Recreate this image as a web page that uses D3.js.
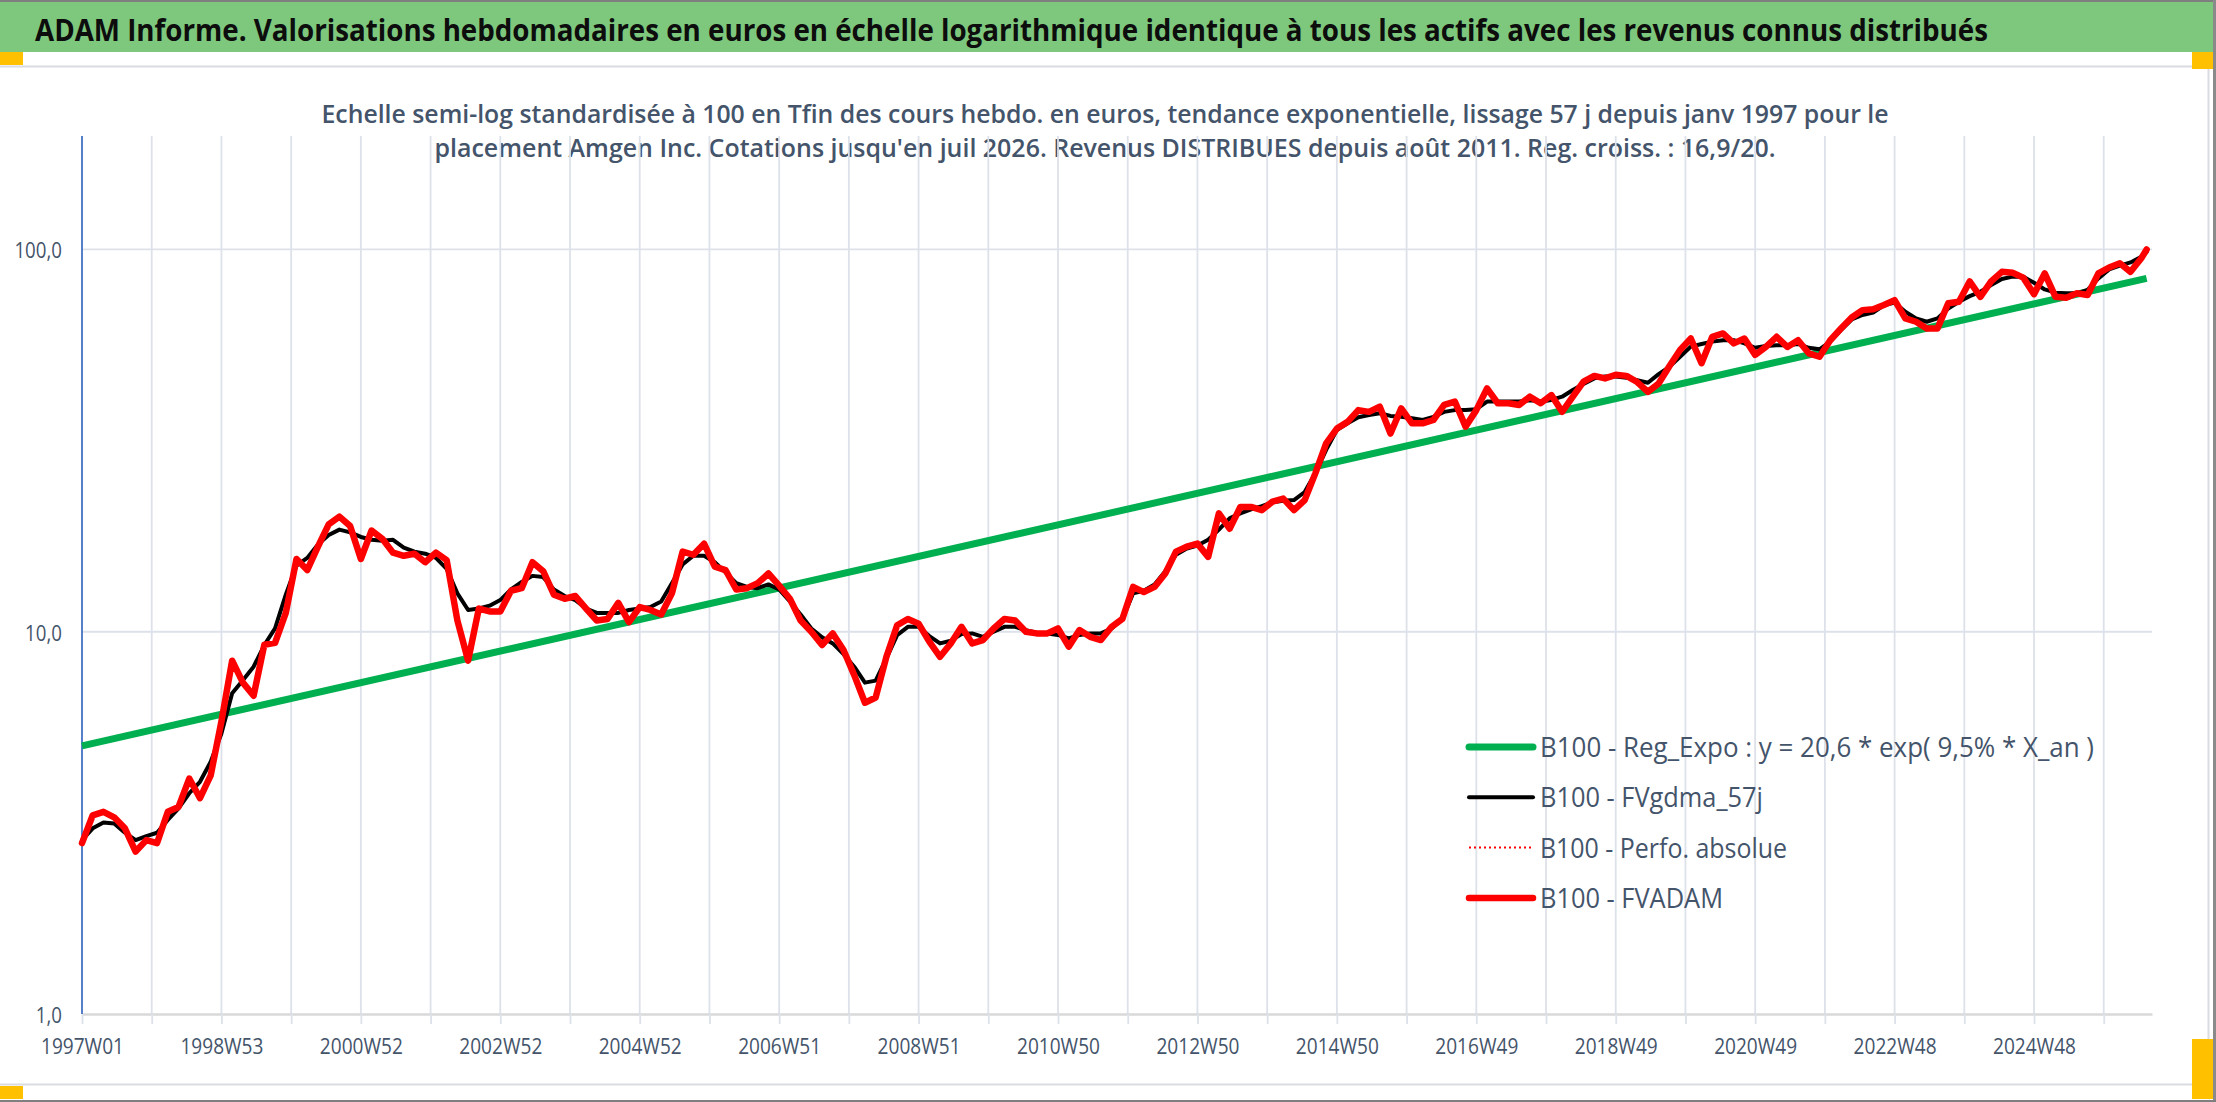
<!DOCTYPE html>
<html lang="fr">
<head>
	<meta charset="UTF-8">
	<title>ADAM Informe - Amgen Inc.</title>
	<style>
		body{margin:0;background:#fff;}
		svg{display:block;font-family:"Open Sans",sans-serif;}
	</style>
</head>
<body>
<script src="https://cdn.jsdelivr.net/npm/d3@7/dist/d3.min.js"></script>
<script>
	// semaines depuis 1997W01, une valeur lue toutes les 8 semaines
	var step=8;
	var lastWeek=1540;
	var gridEvery=52;
	var labelEvery=104;

	var xLabels=['1997W01','1998W53','2000W52','2002W52','2004W52','2006W51','2008W51','2010W50',
		'2012W50','2014W50','2016W49','2018W49','2020W49','2022W48','2024W48'];
	var yTicks=[1,10,100];

	// B100 - Reg_Expo : debut et fin de la droite
	var regWeeks=[0,1540];
	var regExpo=[5.03,84.0];

	// B100 - FVADAM
	var fvadam=[
		2.80,3.31,3.38,3.27,3.06,2.66,2.85,2.80,3.38,3.48,
		4.13,3.67,4.21,5.83,8.4,7.36,6.80,9.25,9.35,11.2,
		15.5,14.5,16.7,19.1,20.0,18.9,15.5,18.4,17.5,16.1,
		15.8,16.0,15.2,16.1,15.4,10.7,8.4,11.5,11.3,11.3,
		12.8,13.0,15.2,14.4,12.5,12.2,12.4,11.5,10.7,
		10.8,11.9,10.6,11.6,11.4,11.1,12.6,16.2,15.9,17.0,
		14.8,14.5,12.9,13.0,13.4,14.2,13.2,12.2,10.7,10.0,
		9.23,9.90,8.96,7.70,6.52,6.73,8.60,10.4,10.8,10.5,
		9.42,8.60,9.32,10.3,9.32,9.51,10.2,10.8,10.7,10.0,
		9.90,9.90,10.2,9.14,10.1,9.70,9.51,10.3,10.8,
		13.1,12.7,13.1,14.2,16.2,16.7,17.0,15.7,20.4,18.6,
		21.2,21.2,20.8,21.9,22.3,20.8,22.1,26.0,31.1,34.0,
		35.4,38.0,37.6,38.8,33.0,38.4,35.1,35.1,35.8,39.2,
		40.0,34.4,38.0,43.3,39.6,39.6,39.2,41.2,39.6,41.6,
		37.6,41.2,45.1,46.7,46.0,47.0,46.7,45.0,
		42.4,44.6,49.5,54.6,58.5,50.4,59.1,60.3,56.8,58.5,
		53.0,55.6,59.1,55.6,57.9,53.5,52.4,57.9,62.1,66.4,
		69.4,69.8,71.6,73.7,66.0,64.7,62.1,62.1,72.3,73.0,
		82.5,75.2,82.5,87.4,86.9,84.4,76.4,86.6,75.2,74.8,
		76.8,76.0,86.6,89.7,92.0,87.4,94.8,100.0
	];

	// B100 - FVgdma_57j
	var fvgdma=[
		2.85,3.06,3.17,3.15,2.98,2.85,2.92,2.98,3.22,3.45,
		3.78,4.05,4.57,5.42,6.90,7.47,8.10,9.23,10.2,12.5,
		14.9,15.6,16.9,17.9,18.5,18.2,17.7,17.4,17.3,17.4,
		16.6,16.2,16.0,15.6,14.6,12.6,11.4,11.5,11.7,12.1,
		12.9,13.5,14.0,13.9,12.9,12.4,12.1,11.5,11.2,
		11.2,11.2,11.4,11.5,11.6,12.0,13.4,15.0,15.8,15.8,
		15.2,14.3,13.4,13.1,13.0,13.3,12.9,12.0,11.1,10.2,
		9.67,9.32,8.74,8.10,7.36,7.45,8.52,9.80,10.3,10.3,
		9.74,9.32,9.47,9.86,9.90,9.70,10.0,10.3,10.3,10.1,
		9.94,9.90,9.81,9.61,9.81,9.90,9.90,10.2,10.8,
		12.6,12.8,13.3,14.4,15.9,16.5,16.8,17.4,18.5,19.8,
		20.4,20.9,21.3,21.8,22.0,22.1,23.2,26.0,29.9,33.7,
		35.1,36.4,36.9,37.3,36.7,36.5,36.2,35.8,36.5,37.6,
		38.0,38.0,38.2,40.0,40.0,40.0,40.0,40.3,40.0,40.4,
		41.2,42.9,44.5,46.0,46.5,46.5,46.2,45.5,
		44.8,47.2,49.3,52.4,55.7,56.6,57.4,57.9,57.9,56.8,
		55.3,55.9,56.2,56.2,56.6,55.3,54.8,57.4,61.5,65.6,
		67.4,68.4,71.4,72.6,68.7,66.0,64.7,66.0,70.1,73.0,
		75.5,77.5,80.7,83.7,84.9,84.9,81.8,78.6,77.1,76.8,
		76.8,78.4,84.0,88.7,90.7,92.5,95.7,98.5
	];

	// B100 - Perfo. absolue : confondue avec FVADAM sur le graphique
	var perfo=fvadam;

	var legendLabels=['B100 - Reg_Expo : y = 20,6 * exp( 9,5% *  X_an )','B100 - FVgdma_57j',
		'B100 - Perfo. absolue','B100 - FVADAM'];

	var width=2216;
	var height=1102;
	var plot={left:82,right:2152,top:136,bottom:1014};
	var textColor='#44546A';

	var svg=d3.select('body')
			.append('svg')
			.attr('width',width)
			.attr('height',height);

	// cadre, bandeau et poignees
	svg.append('rect').attr('x',0).attr('y',0).attr('width',width).attr('height',height).attr('fill','#fff');
	svg.append('rect').attr('x',0).attr('y',0).attr('width',width).attr('height',2).attr('fill','#7f7f7f');
	svg.append('rect').attr('x',0).attr('y',2).attr('width',2213).attr('height',50).attr('fill','#7EC87E');
	svg.append('rect').attr('x',2213).attr('y',0).attr('width',3).attr('height',height).attr('fill','#8a8a8a');
	svg.append('rect').attr('x',0).attr('y',1100).attr('width',width).attr('height',2).attr('fill','#7f7f7f');
	svg.append('path')
		.attr('d','M0,66.5H2208.5V1084.5H0')
		.attr('fill','none')
		.attr('stroke','#d9dce1')
		.attr('stroke-width',2);
	var handles=[[0,52,23,13],[2192,52,21,17],[0,1086,23,13],[2192,1039,21,60]];
	svg.selectAll('.handle')
		.data(handles)
		.enter()
		.append('rect')
		.attr('class','handle')
		.attr('x',function(d){return d[0];})
		.attr('y',function(d){return d[1];})
		.attr('width',function(d){return d[2];})
		.attr('height',function(d){return d[3];})
		.attr('fill','#FFC000');

	svg.append('text')
		.attr('x',35)
		.attr('y',41)
		.attr('font-size','30px')
		.attr('font-weight','bold')
		.attr('fill','#0d0d0d')
		.attr('textLength',1953)
		.attr('lengthAdjust','spacingAndGlyphs')
		.text('ADAM Informe. Valorisations hebdomadaires en euros en échelle logarithmique identique à tous les actifs avec les revenus connus distribués');

	var subtitle=[
		['Echelle semi-log standardisée à 100 en Tfin des cours hebdo. en euros, tendance exponentielle, lissage 57 j depuis janv 1997 pour le',123,1567],
		["placement Amgen Inc. Cotations jusqu'en juil 2026. Revenus DISTRIBUES depuis août 2011. Reg. croiss. : 16,9/20.",157,1341]
	];
	svg.selectAll('.subtitle')
		.data(subtitle)
		.enter()
		.append('text')
		.attr('class','subtitle')
		.attr('x',1105)
		.attr('y',function(d){return d[1];})
		.attr('text-anchor','middle')
		.attr('font-size','25px')
		.attr('font-weight',600)
		.attr('fill',textColor)
		.attr('textLength',function(d){return d[2];})
		.attr('lengthAdjust','spacingAndGlyphs')
		.text(function(d){return d[0];});

	var xScale=d3.scaleLinear()
			.domain([0,1544])
			.range([plot.left,plot.right]);
	var yScale=d3.scaleLog()
			.domain([1,200])
			.range([plot.bottom,134.4]);

	var gridWeeks=d3.range(0,lastWeek,gridEvery);

	// quadrillage
	svg.append('g')
		.selectAll('line')
		.data(gridWeeks.slice(1))
		.enter()
		.append('line')
		.attr('x1',function(d){return xScale(d);})
		.attr('x2',function(d){return xScale(d);})
		.attr('y1',plot.top)
		.attr('y2',plot.bottom)
		.attr('stroke','#dde1e9')
		.attr('stroke-width',1.8);
	svg.append('g')
		.selectAll('line')
		.data(yTicks.slice(1))
		.enter()
		.append('line')
		.attr('x1',plot.left)
		.attr('x2',plot.right)
		.attr('y1',function(d){return yScale(d);})
		.attr('y2',function(d){return yScale(d);})
		.attr('stroke','#dde1e9')
		.attr('stroke-width',1.8);

	var xAxis=d3.axisBottom(xScale)
		.tickValues(gridWeeks)
		.tickSize(10)
		.tickSizeOuter(0)
		.tickFormat(function(w){return w%labelEvery===0 ? xLabels[w/labelEvery] : '';});
	var gx=svg.append('g')
		.attr('class','xAxis')
		.attr('transform','translate(0,'+plot.bottom+')')
		.call(xAxis);
	gx.select('.domain').attr('stroke','#d9d9d9').attr('stroke-width',2.5);
	gx.selectAll('.tick line').attr('stroke','#dde1e9').attr('stroke-width',1.8);
	gx.selectAll('.tick text')
		.attr('y',40)
		.attr('dy',0)
		.attr('font-size','22px')
		.attr('font-family','"Open Sans",sans-serif')
		.attr('fill',textColor)
		.filter(function(w){return w%labelEvery===0;})
		.attr('textLength',83)
		.attr('lengthAdjust','spacingAndGlyphs');

	var yAxis=d3.axisLeft(yScale)
		.tickValues(yTicks)
		.tickSize(0)
		.tickPadding(20)
		.tickFormat(function(d){return d3.format('.1f')(d).replace('.',',');});
	var gy=svg.append('g')
		.attr('class','yAxis')
		.attr('transform','translate('+plot.left+',0)')
		.call(yAxis);
	gy.select('.domain')
		.attr('d','M0,'+plot.top+'V'+plot.bottom)
		.attr('stroke','#4472C4')
		.attr('stroke-width',1.8);
	gy.selectAll('.tick text')
		.attr('dy','0.4em')
		.attr('font-size','21px')
		.attr('font-family','"Open Sans",sans-serif')
		.attr('fill',textColor)
		.each(function(){
			var t=d3.select(this);
			t.attr('textLength',this.getComputedTextLength()*0.89).attr('lengthAdjust','spacingAndGlyphs');
		});

	function weekOf(i){
		return Math.min(i*step,lastWeek);
	}

	var line=d3.line()
		.x(function(d,i){return xScale(weekOf(i));})
		.y(function(d){return yScale(d);});
	var regLine=d3.line()
		.x(function(d,i){return xScale(regWeeks[i]);})
		.y(function(d){return yScale(d);});

	var styles=[
		{color:'#00B050',width:7,dash:null},
		{color:'#000000',width:4,dash:null},
		{color:'#FF0000',width:2,dash:'2,3'},
		{color:'#FF0000',width:6.5,dash:null}
	];

	svg.append('path')
		.attr('d',regLine(regExpo))
		.attr('fill','none')
		.attr('stroke',styles[0].color)
		.attr('stroke-width',styles[0].width);
	var series=[fvgdma,perfo,fvadam];
	svg.selectAll('.serie')
		.data(series)
		.enter()
		.append('path')
		.attr('class','serie')
		.attr('d',function(d){return line(d);})
		.attr('fill','none')
		.attr('stroke',function(d,i){return styles[i+1].color;})
		.attr('stroke-width',function(d,i){return styles[i+1].width;})
		.attr('stroke-dasharray',function(d,i){return styles[i+1].dash;})
		.attr('stroke-linejoin','round')
		.attr('stroke-linecap','round');

	// legende
	var legendWidths=[554,223,247,183];
	var legend=svg.selectAll('.legend')
		.data(legendLabels)
		.enter()
		.append('g')
		.attr('class','legend')
		.attr('transform',function(d,i){return 'translate(1469,'+(747+i*50.3)+')';});
	legend.append('line')
		.attr('x1',0)
		.attr('x2',64)
		.attr('stroke',function(d,i){return styles[i].color;})
		.attr('stroke-width',function(d,i){return styles[i].width;})
		.attr('stroke-dasharray',function(d,i){return styles[i].dash;})
		.attr('stroke-linecap',function(d,i){return styles[i].dash ? 'butt' : 'round';});
	legend.append('text')
		.attr('x',71)
		.attr('y',10)
		.attr('font-size','28px')
		.attr('fill',textColor)
		.attr('textLength',function(d,i){return legendWidths[i];})
		.attr('lengthAdjust','spacingAndGlyphs')
		.text(function(d){return d;});
</script>
</body>
</html>
